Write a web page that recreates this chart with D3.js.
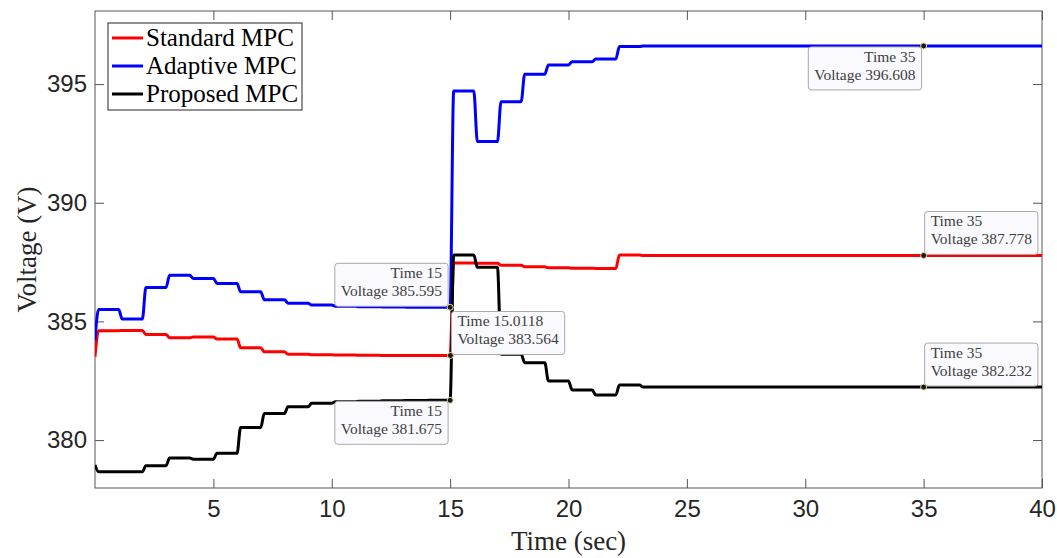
<!DOCTYPE html>
<html>
<head>
<meta charset="utf-8">
<script src="https://cdn.jsdelivr.net/npm/d3@7/dist/d3.min.js"></script>
<style>
body { margin: 0; background: #fff; }
svg { display: block; }
</style>
</head>
<body>
<div id="chart"></div>
<script>

// start time (sec) of each level
var stepTimes = [0, 1, 2, 3, 4, 5, 6, 7, 8, 9, 10, 11, 12, 13, 14, 15, 16, 17, 18, 19, 20, 21, 22, 23];

// voltage at t=0 and level held from each step time
var standardStart = 383.51;
var standardLevels = [384.61, 384.62, 384.45, 384.31, 384.34, 384.26, 383.89, 383.72, 383.62, 383.59, 383.58, 383.57, 383.565, 383.564, 383.564,
                      387.46, 387.45, 387.37, 387.30, 387.26, 387.24, 387.23, 387.80, 387.778];
var adaptiveStart = 384.21;
var adaptiveLevels = [385.50, 385.10, 386.43, 386.94, 386.81, 386.60, 386.25, 385.91, 385.77, 385.69, 385.64, 385.62, 385.61, 385.60, 385.595,
                      394.71, 392.58, 394.26, 395.42, 395.80, 395.94, 396.06, 396.58, 396.608];
var proposedStart = 378.95;
var proposedLevels = [378.66, 378.66, 378.92, 379.24, 379.19, 379.44, 380.53, 381.12, 381.40, 381.55, 381.61, 381.64, 381.66, 381.67, 381.675,
                      387.80, 387.28, 383.62, 383.26, 382.49, 382.11, 381.90, 382.32, 382.232];

var seriesNames = ["Standard MPC", "Adaptive MPC", "Proposed MPC"];
var seriesColors = ["#ff0000", "#0000ff", "#000000"];

var xTicks = [5, 10, 15, 20, 25, 30, 35, 40];
var yTicks = [380, 385, 390, 395];

// data tips
var tipTimes = ["15", "15.0118", "15", "35", "35", "35"];
var tipVolts = ["385.595", "383.564", "381.675", "396.608", "387.778", "382.232"];
var tipPlace = ["ul", "ur", "dl", "dl", "ur", "ur"];

var W = 1057, H = 558;
var box = {left: 95, right: 1042, top: 11, bottom: 488};
var rise = 0.15;

var x = d3.scaleLinear().domain([0, 40]).range([box.left, box.right]);
var y = d3.scaleLinear().domain([377.98, 398.08]).range([box.bottom, box.top]);

var svg = d3.select("#chart").append("svg")
    .attr("width", W)
    .attr("height", H);

svg.append("defs").append("clipPath").attr("id", "plotclip")
  .append("rect")
    .attr("x", box.left).attr("y", box.top)
    .attr("width", box.right - box.left).attr("height", box.bottom - box.top);

var axisColor = "#555";

function styleAxis(g) {
  g.select(".domain").remove();
  g.selectAll(".tick line").attr("stroke", axisColor);
  g.selectAll(".tick text")
    .attr("fill", "#262626")
    .style("font-family", "'Liberation Sans', Arial, sans-serif")
    .style("font-size", "24px");
}

svg.append("g")
    .attr("transform", "translate(0," + box.bottom + ")")
    .call(d3.axisBottom(x).tickValues(xTicks).tickSizeInner(-9).tickSizeOuter(0).tickPadding(12))
    .call(styleAxis);
svg.append("g")
    .attr("transform", "translate(0," + box.top + ")")
    .call(d3.axisTop(x).tickValues(xTicks).tickSizeInner(-9).tickSizeOuter(0).tickFormat(""))
    .call(styleAxis);
svg.append("g")
    .attr("transform", "translate(" + box.left + ",0)")
    .call(d3.axisLeft(y).tickValues(yTicks).tickSizeInner(-9).tickSizeOuter(0).tickPadding(8))
    .call(styleAxis);
svg.append("g")
    .attr("transform", "translate(" + box.right + ",0)")
    .call(d3.axisRight(y).tickValues(yTicks).tickSizeInner(-9).tickSizeOuter(0).tickFormat(""))
    .call(styleAxis);

svg.append("rect")
    .attr("x", box.left).attr("y", box.top)
    .attr("width", box.right - box.left).attr("height", box.bottom - box.top)
    .attr("fill", "none")
    .attr("stroke", axisColor)
    .attr("stroke-width", 1);

// axis labels
svg.append("text")
    .attr("x", (box.left + box.right) / 2)
    .attr("y", 550)
    .attr("text-anchor", "middle")
    .style("font-family", "'Liberation Serif', 'Times New Roman', serif")
    .style("font-size", "27px")
    .attr("fill", "#262626")
    .text("Time (sec)");
svg.append("text")
    .attr("transform", "translate(36," + (box.top + box.bottom) / 2 + ") rotate(-90)")
    .attr("text-anchor", "middle")
    .style("font-family", "'Liberation Serif', 'Times New Roman', serif")
    .style("font-size", "27px")
    .attr("fill", "#262626")
    .text("Voltage (V)");

function buildPoints(start, levels) {
  var pts = [[stepTimes[0], start]];
  levels.forEach(function(L, i) {
    if (i > 0) pts.push([stepTimes[i], levels[i - 1]]);
    pts.push([stepTimes[i] + rise, L]);
  });
  pts.push([40, levels[levels.length - 1]]);
  return pts;
}

var allSeries = [
  buildPoints(standardStart, standardLevels),
  buildPoints(adaptiveStart, adaptiveLevels),
  buildPoints(proposedStart, proposedLevels)
];

var line = d3.line()
    .x(function(d) { return x(d[0]); })
    .y(function(d) { return y(d[1]); })
    .curve(d3.curveMonotoneX);

svg.append("g").attr("clip-path", "url(#plotclip)")
  .selectAll("path")
  .data(allSeries)
  .enter().append("path")
    .attr("d", line)
    .attr("fill", "none")
    .attr("stroke", function(d, i) { return seriesColors[i]; })
    .attr("stroke-width", 3)
    .attr("stroke-linejoin", "round");

// data tips
var tipFont = "'Liberation Serif', 'Times New Roman', serif";
tipTimes.forEach(function(t, i) {
  var px = x(+t), py = y(+tipVolts[i]);
  var g = svg.append("g");
  var r = g.append("rect");
  var l1 = g.append("text").text("Time " + t);
  var l2 = g.append("text").text("Voltage " + tipVolts[i]);
  g.selectAll("text")
    .style("font-family", tipFont)
    .style("font-size", "15.5px")
    .attr("fill", "#404040");
  var tw = Math.max(l1.node().getComputedTextLength(), l2.node().getComputedTextLength());
  var bw = tw + 12, bh = 43;
  var place = tipPlace[i];
  var bx = place[1] === "l" ? px - 2 - bw : px + 1;
  var by = place[0] === "u" ? py - 1 - bh : py + 1;
  r.attr("x", bx).attr("y", by).attr("width", bw).attr("height", bh)
    .attr("rx", 3)
    .attr("fill", "#f9f9fe")
    .attr("stroke", "#a8a8a8")
    .attr("stroke-width", 1);
  var tx = place[1] === "l" ? bx + bw - 6 : bx + 6;
  var anchor = place[1] === "l" ? "end" : "start";
  l1.attr("x", tx).attr("y", by + 15).attr("text-anchor", anchor);
  l2.attr("x", tx).attr("y", by + 33).attr("text-anchor", anchor);
  svg.append("circle")
    .attr("cx", px).attr("cy", py).attr("r", 3)
    .attr("fill", "#1a1a1a")
    .attr("stroke", "#e6dfa0")
    .attr("stroke-width", 1);
});

// legend
var leg = svg.append("g");
leg.append("rect")
    .attr("x", 108).attr("y", 23)
    .attr("width", 194).attr("height", 87)
    .attr("fill", "#fff")
    .attr("stroke", "#262626")
    .attr("stroke-width", 1);
seriesNames.forEach(function(name, i) {
  var ly = 38 + i * 28;
  leg.append("line")
    .attr("x1", 112).attr("x2", 143)
    .attr("y1", ly).attr("y2", ly)
    .attr("stroke", seriesColors[i])
    .attr("stroke-width", 3);
  leg.append("text")
    .attr("x", 146).attr("y", ly + 8)
    .style("font-family", "'Liberation Serif', 'Times New Roman', serif")
    .style("font-size", "25px")
    .attr("fill", "#000")
    .text(name);
});

</script>
</body>
</html>
